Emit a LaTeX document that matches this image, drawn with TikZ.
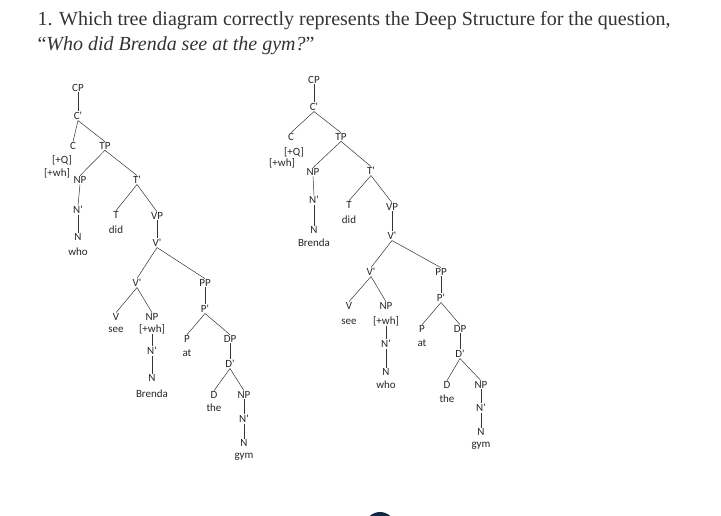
\documentclass[tikz,border=0pt]{standalone}
\usepackage{fontspec}
\setmainfont{Liberation Serif}
\newfontfamily\tf{Carlito}
\begin{document}
\begin{tikzpicture}[x=1pt,y=-1pt,
  t/.style={font=\tf\fontsize{11}{11}\selectfont,inner sep=0.6pt,text=black!85},
  w/.style={font=\tf\fontsize{11}{11}\selectfont,inner sep=0.5pt,text=black!85},
  br/.style={draw=black!80,line width=0.5pt}]
\useasboundingbox (0,0) rectangle (721,515);
\node[anchor=west,font=\fontsize{20}{20}\selectfont,text=black!80] (title1) at (34,21) {1. Which tree diagram correctly represents the Deep Structure for the question,};
\node[anchor=west,font=\fontsize{20}{20}\selectfont,text=black!80] (title2) at (34,46) {``\textit{Who did Brenda see at the gym?}''};
\fill[fill={rgb,255:red,13;green,42;blue,74}] (380,527) circle (15);
% tree 1
\node[t] (a1) at (78,88) {CP};
\node[t] (a2) at (78,116) {C'};
\node[t] (a3) at (73,146) {C};
\node[w] (a3f) at (62,160) {[+Q]};
\node[w] (a3g) at (57,173) {[+wh]};
\node[t] (a4) at (105,146) {TP};
\node[t] (a5) at (80,180) {NP};
\node[t] (a6) at (78,210) {N'};
\node[t] (a7) at (78,237) {N};
\node[w] (a7w) at (78,252) {who};
\node[t] (a8) at (137,180) {T'};
\node[t] (a9) at (116,215) {T};
\node[w] (a9w) at (116,230) {did};
\node[t] (a10) at (157,216) {VP};
\node[t] (a11) at (157,243) {V'};
\node[t] (a12) at (137,283) {V'};
\node[t] (a13) at (205,283) {PP};
\node[t] (a14) at (116,317) {V};
\node[w] (a14w) at (116,330) {see};
\node[t] (a15) at (152,317) {NP};
\node[w] (a15f) at (152,329) {[+wh]};
\node[t] (a16) at (152,351) {N'};
\node[t] (a17) at (152,378) {N};
\node[w] (a17w) at (152,394) {Brenda};
\node[t] (a18) at (205,309) {P'};
\node[t] (a19) at (187,339) {P};
\node[w] (a19w) at (187,353) {at};
\node[t] (a20) at (230,339) {DP};
\node[t] (a21) at (230,364) {D'};
\node[t] (a22) at (214,395) {D};
\node[w] (a22w) at (214,408) {the};
\node[t] (a23) at (244,395) {NP};
\node[t] (a24) at (244,419) {N'};
\node[t] (a25) at (244,443) {N};
\node[w] (a25w) at (244,457) {gym};
\foreach \p/\c in {a1/a2,a2/a3,a2/a4,a4/a5,a5/a6,a6/a7,a4/a8,a8/a9,a8/a10,a10/a11,a11/a12,a11/a13,a12/a14,a12/a15,a16/a17,a13/a18,a18/a19,a18/a20,a20/a21,a21/a22,a21/a23,a23/a24,a24/a25}
  \draw[br] (\p.south) -- (\c.north);
\draw[br] (a15f.south) -- (a16.north);
% tree 2
\node[t] (b1) at (314,80) {CP};
\node[t] (b2) at (314,107) {C'};
\node[t] (b3) at (291,137) {C};
\node[w] (b3f) at (294,152) {[+Q]};
\node[w] (b3g) at (282,163) {[+wh]};
\node[t] (b4) at (341,137) {TP};
\node[t] (b5) at (313,172) {NP};
\node[t] (b6) at (314,200) {N'};
\node[t] (b7) at (314,230) {N};
\node[w] (b7w) at (314,243) {Brenda};
\node[t] (b8) at (371,171) {T'};
\node[t] (b9) at (349,205) {T};
\node[w] (b9w) at (349,220) {did};
\node[t] (b10) at (392,207) {VP};
\node[t] (b11) at (392,236) {V'};
\node[t] (b12) at (371,272) {V'};
\node[t] (b13) at (441,272) {PP};
\node[t] (b14) at (349,306) {V};
\node[w] (b14w) at (349,322) {see};
\node[t] (b15) at (386,306) {NP};
\node[w] (b15f) at (386,321) {[+wh]};
\node[t] (b16) at (386,344) {N'};
\node[t] (b17) at (386,372) {N};
\node[w] (b17w) at (386,385) {who};
\node[t] (b18) at (441,298) {P'};
\node[t] (b19) at (422,329) {P};
\node[w] (b19w) at (422,343) {at};
\node[t] (b20) at (460,329) {DP};
\node[t] (b21) at (460,354) {D'};
\node[t] (b22) at (447,385) {D};
\node[w] (b22w) at (447,399) {the};
\node[t] (b23) at (481,385) {NP};
\node[t] (b24) at (481,408) {N'};
\node[t] (b25) at (481,432) {N};
\node[w] (b25w) at (481,446) {gym};
\foreach \p/\c in {b1/b2,b2/b3,b2/b4,b4/b5,b5/b6,b6/b7,b4/b8,b8/b9,b8/b10,b10/b11,b11/b12,b11/b13,b12/b14,b12/b15,b16/b17,b13/b18,b18/b19,b18/b20,b20/b21,b21/b22,b21/b23,b23/b24,b24/b25}
  \draw[br] (\p.south) -- (\c.north);
\draw[br] (b15f.south) -- (b16.north);
\end{tikzpicture}
\end{document}
